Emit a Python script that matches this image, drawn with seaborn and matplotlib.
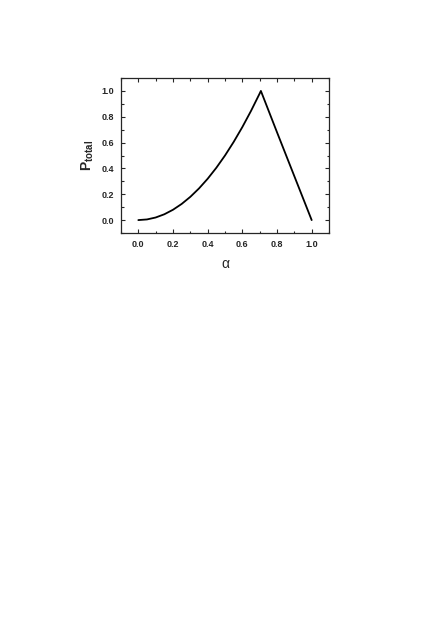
import numpy as np
import pandas as pd
import matplotlib
matplotlib.use("Agg")
import matplotlib.pyplot as plt
import seaborn as sns
from matplotlib.ticker import MultipleLocator, FormatStrFormatter

# values
alpha = [0.0, 0.05, 0.1, 0.15, 0.2, 0.25, 0.3, 0.35, 0.4, 0.45, 0.5,
         0.55, 0.6, 0.65, 0.7, 0.707, 0.8, 0.9, 1.0]
p_total = [0.0, 0.005, 0.02, 0.045, 0.08, 0.125, 0.18, 0.245, 0.32, 0.405, 0.5,
           0.605, 0.72, 0.845, 0.98, 1.0, 0.68, 0.34, 0.0]

df = pd.DataFrame({"alpha": alpha, "p_total": p_total})

sns.set_style("ticks")
plt.rcParams['font.family'] = ['Liberation Sans', 'DejaVu Sans']
plt.rcParams['mathtext.fontset'] = 'custom'
plt.rcParams['mathtext.bf'] = 'Liberation Sans:bold'
plt.rcParams['mathtext.rm'] = 'Liberation Sans'

fig = plt.figure(figsize=(4.36, 6.17), dpi=100)
ax = fig.add_axes([121 / 436, 1 - 233 / 617, 208 / 436, 155 / 617])

sns.lineplot(data=df, x="alpha", y="p_total", ax=ax, color="black", linewidth=1.3)

ax.set_xlim(-0.1, 1.1)
ax.set_ylim(-0.1, 1.1)
ax.xaxis.set_major_locator(MultipleLocator(0.2))
ax.xaxis.set_minor_locator(MultipleLocator(0.1))
ax.yaxis.set_major_locator(MultipleLocator(0.2))
ax.yaxis.set_minor_locator(MultipleLocator(0.1))
ax.xaxis.set_major_formatter(FormatStrFormatter('%.1f'))
ax.yaxis.set_major_formatter(FormatStrFormatter('%.1f'))
ax.tick_params(which="both", direction="in", top=True, right=True, width=0.8)
ax.tick_params(which="major", length=3, labelsize=6.5, pad=5)
ax.tick_params(which="minor", length=1.8)
for lab in ax.get_xticklabels() + ax.get_yticklabels():
    lab.set_fontweight("bold")
for s in ax.spines.values():
    s.set_linewidth(0.9)

ax.set_xlabel("α", fontsize=10, labelpad=6)
ax.set_ylabel(r"$\mathbf{P_{total}}$", fontsize=10, labelpad=4)

fig.savefig("out.png", dpi=100)
